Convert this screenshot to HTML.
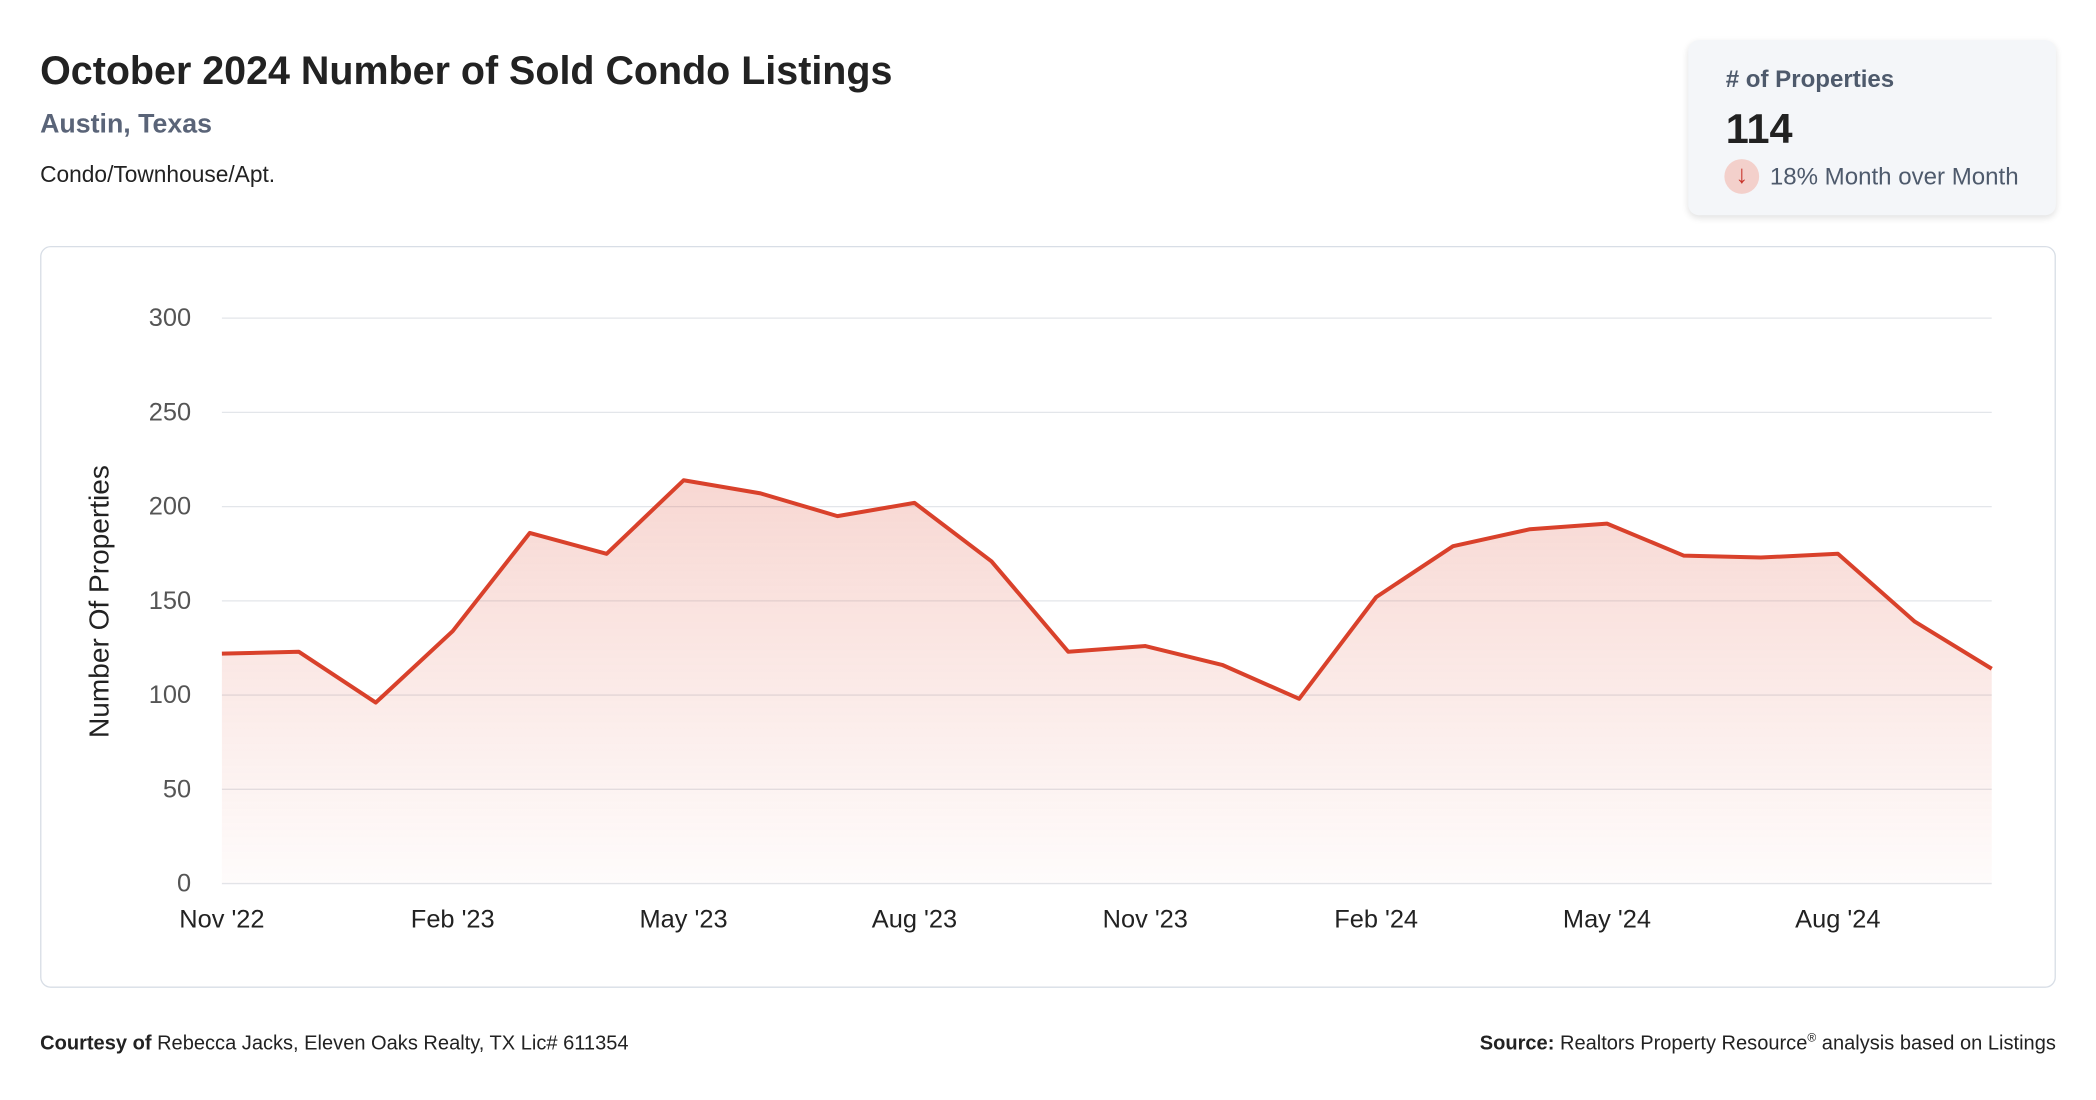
<!DOCTYPE html>
<html><head><meta charset="utf-8"><style>
html,body{margin:0;padding:0;background:#fff;width:2096px;height:1100px;overflow:hidden}
#wrap{position:absolute;left:0;top:0;width:1568px;height:823px;transform:scale(1.33673);transform-origin:0 0;font-family:"Liberation Sans",sans-serif;color:#222}
.abs{position:absolute;white-space:nowrap}
</style></head><body>
<div id="wrap">
<div class="abs" style="left:30px;top:37px;font-size:29.5px;font-weight:bold;color:#222">October 2024 Number of Sold Condo Listings</div>
<div class="abs" style="left:30px;top:82px;font-size:20px;font-weight:bold;color:#5a6478">Austin, Texas</div>
<div class="abs" style="left:30px;top:121px;font-size:17px;color:#222">Condo/Townhouse/Apt.</div>
<div class="abs" style="left:1263px;top:30px;width:275px;height:131px;background:#f4f6f9;border-radius:8px;box-shadow:0 2px 5px rgba(0,0,0,0.12)">
  <div class="abs" style="left:28px;top:19px;font-size:18px;font-weight:bold;color:#4e5a6c"># of Properties</div>
  <div class="abs" style="left:28px;top:49px;font-size:31px;font-weight:bold;color:#222">114</div>
  <div class="abs" style="left:27px;top:89px;width:26px;height:26px;border-radius:50%;background:#f3d0cb;color:#c8342a;font-size:19px;line-height:26px;text-align:center">↓</div>
  <div class="abs" style="left:61px;top:92px;font-size:18px;color:#4e5a6c">18% Month over Month</div>
</div>
<div class="abs" style="left:30px;top:184px;width:1506px;height:553px;border:1px solid #d8dee6;border-radius:8px"></div>
<svg class="abs" style="left:0;top:0" width="1568" height="823">
<defs><linearGradient id="g" x1="0" y1="0" x2="0" y2="1"><stop offset="0" stop-color="#e05a45" stop-opacity="0.24"/><stop offset="1" stop-color="#e05a45" stop-opacity="0.02"/></linearGradient></defs>
<g id="grid"></g><g id="ylab"></g><g id="xlab"></g>
<path id="area" fill="url(#g)"/>
<path id="line" fill="none" stroke="#d9412b" stroke-width="3" stroke-linejoin="round"/>
<text transform="translate(81,450) rotate(-90)" text-anchor="middle" font-size="21" fill="#222">Number Of Properties</text>
</svg>
<div class="abs" style="left:30px;top:772px;font-size:15px;color:#222"><b>Courtesy of</b> Rebecca Jacks, Eleven Oaks Realty, TX Lic# 611354</div>
<div class="abs" style="right:30px;top:771px;font-size:15px;color:#222"><b>Source:</b> Realtors Property Resource<sup style="font-size:9px">®</sup> analysis based on Listings</div>
</div>
<script>
const months=["Nov '22","Dec '22","Jan '23","Feb '23","Mar '23","Apr '23","May '23","Jun '23","Jul '23","Aug '23","Sep '23","Oct '23","Nov '23","Dec '23","Jan '24","Feb '24","Mar '24","Apr '24","May '24","Jun '24","Jul '24","Aug '24","Sep '24","Oct '24"];
const values=[122,123,96,134,186,175,214,207,195,202,171,123,126,116,98,152,179,188,191,174,173,175,139,114];
const yTicks=[0,50,100,150,200,250,300];
const xTickIdx=[0,3,6,9,12,15,18,21];
const NS="http://www.w3.org/2000/svg";
const x0=166,x1=1490,yb=661,yt=238,ymax=300;
function xs(i){return x0+(x1-x0)*i/(months.length-1);}
function ys(v){return yb-(yb-yt)*v/ymax;}
const grid=document.getElementById('grid'),ylab=document.getElementById('ylab'),xlab=document.getElementById('xlab');
yTicks.forEach(t=>{
  const l=document.createElementNS(NS,'line');
  
  
  l.setAttribute('x1',x0);l.setAttribute('x2',x1);l.setAttribute('y1',ys(t));l.setAttribute('y2',ys(t));
  l.setAttribute('stroke','#e3e6ea');l.setAttribute('stroke-width','1');
  grid.appendChild(l);
  const tx=document.createElementNS(NS,'text');
  
  
  tx.setAttribute('x',143);tx.setAttribute('y',ys(t)+6);tx.setAttribute('text-anchor','end');
  tx.setAttribute('font-size','19');tx.setAttribute('fill','#555');tx.textContent=t;
  ylab.appendChild(tx);
});
xTickIdx.forEach(i=>{
  const tx=document.createElementNS(NS,'text');
  
  
  tx.setAttribute('x',xs(i));tx.setAttribute('y',694);tx.setAttribute('text-anchor','middle');
  tx.setAttribute('font-size','19');tx.setAttribute('fill','#222');tx.textContent=months[i];
  xlab.appendChild(tx);
});
let d=values.map((v,i)=>(i?'L':'M')+xs(i).toFixed(1)+' '+ys(v).toFixed(1)).join(' ');
document.getElementById('line').setAttribute('d',d);
document.getElementById('area').setAttribute('d',d+' L'+xs(values.length-1)+' '+yb+' L'+x0+' '+yb+' Z');
</script>
</body></html>
